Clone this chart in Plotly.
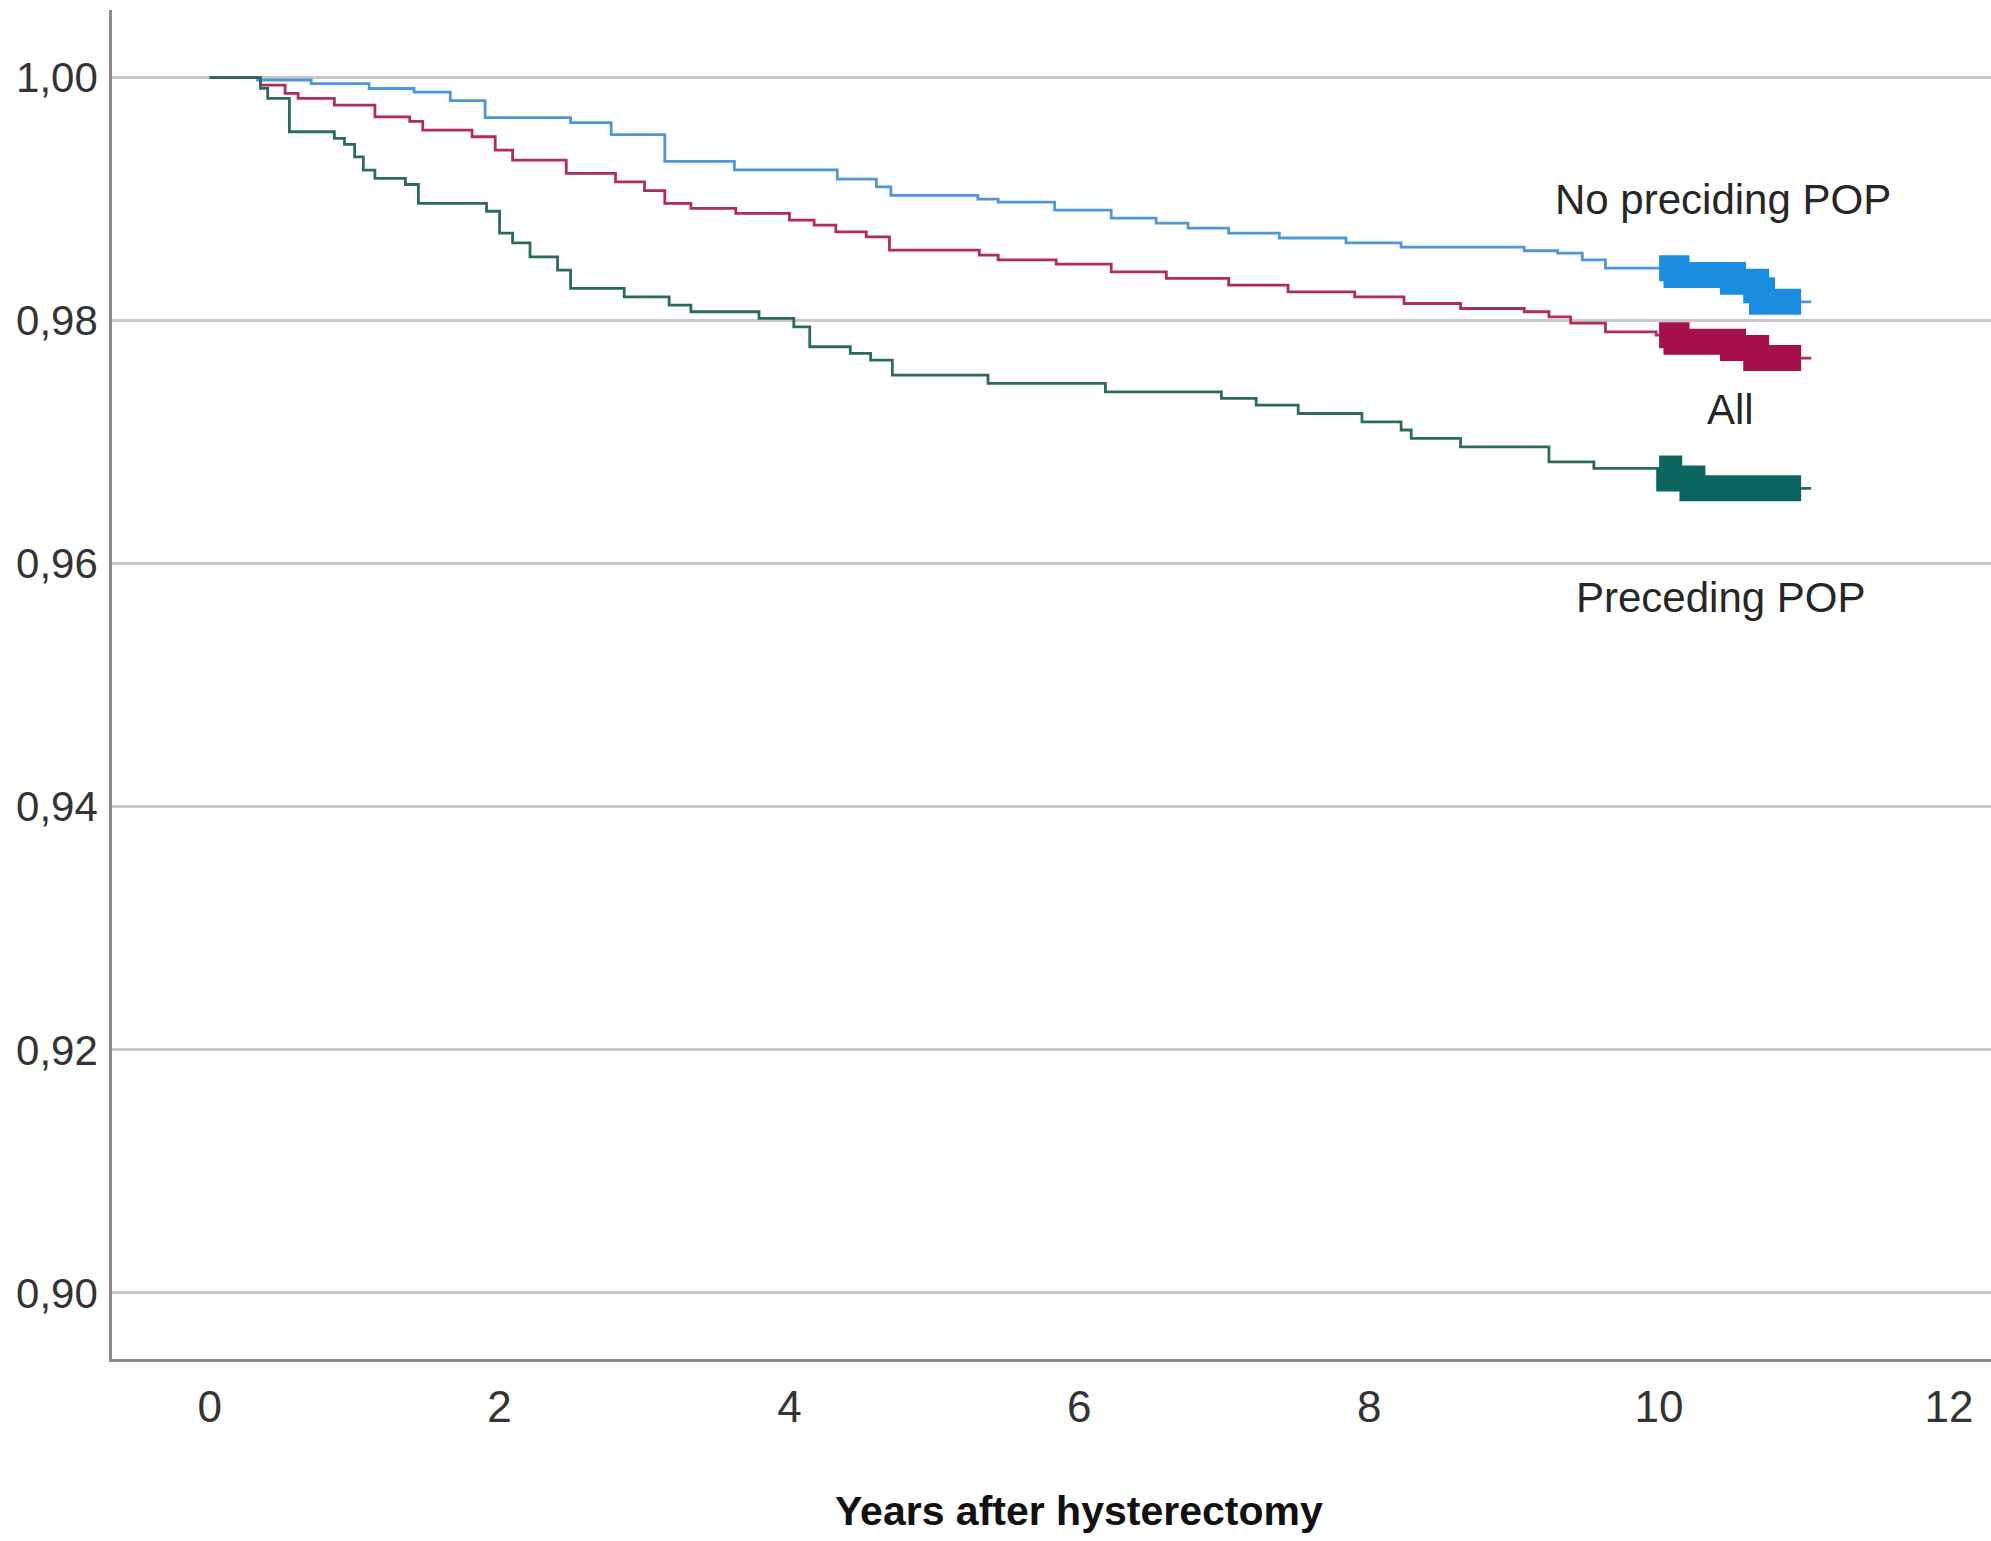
import plotly.graph_objects as go

# Kaplan-Meier step estimates (years after hysterectomy, survival probability)
no_pop_t = [0, 0.33, 0.70, 1.10, 1.41, 1.66, 1.90, 2.49, 2.77, 3.14, 3.62, 4.33, 4.60,
            4.70, 5.30, 5.44, 5.83, 6.22, 6.53, 6.75, 7.03, 7.38, 7.84, 8.22, 9.07,
            9.30, 9.47, 9.63, 10.12, 10.51, 10.67, 10.71]
no_pop_s = [1.0, 0.9998, 0.9995, 0.9991, 0.9988, 0.9981, 0.9967, 0.9963, 0.9953, 0.9931,
            0.9924, 0.99165, 0.9910, 0.9903, 0.9900, 0.98975, 0.9891, 0.98844, 0.98803,
            0.98762, 0.9872, 0.9868, 0.9864, 0.98605, 0.98575, 0.98555, 0.9850, 0.98432,
            0.98375, 0.9832, 0.98251, 0.98155]

all_t = [0, 0.35, 0.52, 0.61, 0.86, 1.14, 1.38, 1.47, 1.81, 1.97, 2.09, 2.46, 2.80, 3.00,
         3.14, 3.32, 3.63, 4.00, 4.17, 4.32, 4.53, 4.69, 5.31, 5.44, 5.84, 6.22, 6.60,
         7.03, 7.44, 7.90, 8.24, 8.63, 9.07, 9.24, 9.39, 9.63, 9.98, 10.12, 10.51, 10.67]
all_s = [1.0, 0.99938, 0.9987, 0.99829, 0.99774, 0.99677, 0.9964, 0.99568, 0.99513,
         0.99403, 0.99321, 0.99212, 0.99142, 0.9907, 0.98965, 0.98923, 0.98882, 0.98827,
         0.98786, 0.98731, 0.9869, 0.9858, 0.98539, 0.9850, 0.98465, 0.98402, 0.98347,
         0.98292, 0.98237, 0.98196, 0.98141, 0.9810, 0.98073, 0.98031, 0.9798, 0.97908,
         0.9788, 0.97826, 0.97774, 0.97692]

pop_t = [0, 0.35, 0.40, 0.55, 0.86, 0.93, 1.00, 1.06, 1.14, 1.35, 1.44, 1.91, 2.00, 2.09,
         2.21, 2.40, 2.49, 2.86, 3.17, 3.32, 3.79, 4.03, 4.14, 4.42, 4.56, 4.71, 5.37,
         6.18, 6.98, 7.22, 7.51, 7.95, 8.22, 8.29, 8.63, 9.24, 9.55, 10.07, 10.23]
pop_s = [1.0, 0.99911, 0.99829, 0.99554, 0.9950, 0.9945, 0.99348, 0.99239, 0.9917, 0.9912,
         0.98965, 0.9890, 0.9872, 0.9864, 0.98525, 0.98416, 0.98265, 0.98196, 0.98128,
         0.98073, 0.98018, 0.97949, 0.97785, 0.9773, 0.97675, 0.97552, 0.97483, 0.97414,
         0.9736, 0.97305, 0.97236, 0.97167, 0.9710, 0.97031, 0.96961, 0.96838, 0.96784,
         0.96701, 0.9662]

# follow-up window where censored cases pile up, and end of follow-up
censor_from = 10.0
censor_to = 10.98
follow_up_end = 11.05

y_ticks = [0.90, 0.92, 0.94, 0.96, 0.98, 1.00]
y_tick_text = ["0,90", "0,92", "0,94", "0,96", "0,98", "1,00"]
x_ticks = [0, 2, 4, 6, 8, 10, 12]

groups = [
    ("No preciding POP", no_pop_t, no_pop_s, "#4f97d6", "#1a8de0", 10.44, 0.9900),
    ("All", all_t, all_s, "#b02c5a", "#a50f4b", 10.49, 0.97272),
    ("Preceding POP", pop_t, pop_s, "#2b6a5e", "#0c6660", 10.43, 0.95725),
]

FONT = "Liberation Sans, Arial, Helvetica, sans-serif"


def step_value(ts, ss, x):
    v = ss[0]
    for t, s in zip(ts, ss):
        if t <= x:
            v = s
    return v


fig = go.Figure()

for name, ts, ss, line_col, mark_col, lx, ly in groups:
    xs = list(ts) + [follow_up_end]
    ys = list(ss) + [ss[-1]]
    fig.add_trace(go.Scatter(x=xs, y=ys, mode="lines", line=dict(color=line_col, width=2.8, shape="hv"),
                             name=name, showlegend=False, hoverinfo="skip"))
    # dense band of censoring marks
    bx = [censor_from] + [t for t in ts if censor_from < t < censor_to] + [censor_to]
    by = [step_value(ts, ss, censor_from)] + [s for t, s in zip(ts, ss) if censor_from < t < censor_to]
    by.append(by[-1])
    fig.add_trace(go.Scatter(x=bx, y=by, mode="lines", line=dict(color=mark_col, width=26, shape="hv"),
                             showlegend=False, hoverinfo="skip"))

for name, ts, ss, line_col, mark_col, lx, ly in groups:
    fig.add_annotation(x=lx, y=ly, xref="x", yref="y", text=name, showarrow=False,
                       font=dict(family=FONT, size=42, color="#262626"))

fig.add_annotation(x=0.5146, y=0, xref="paper", yref="paper", yshift=-152, yanchor="middle",
                   text="<b>Years after hysterectomy</b>", showarrow=False,
                   font=dict(family=FONT, size=41, color="#111111"))

fig.update_layout(
    width=1991, height=1541,
    margin=dict(l=112, r=0, t=10, b=182),
    paper_bgcolor="white", plot_bgcolor="white",
    showlegend=False,
)
fig.update_xaxes(range=[-0.674, 12.29], tickvals=x_ticks, showgrid=False, zeroline=False,
                 showline=True, linecolor="#8c8c8c", linewidth=2.5, ticks="",
                 ticklabelstandoff=7,
                 tickfont=dict(family=FONT, size=44, color="#333333"))
fig.update_yaxes(range=[0.89456, 1.00556], tickvals=y_ticks, ticktext=y_tick_text,
                 showgrid=True, gridcolor="#c9c9c9", gridwidth=2.5, zeroline=False,
                 showline=True, linecolor="#8c8c8c", linewidth=2.5, ticks="",
                 ticklabelstandoff=3,
                 tickfont=dict(family=FONT, size=42, color="#333333"))

fig.write_html("out.html")
